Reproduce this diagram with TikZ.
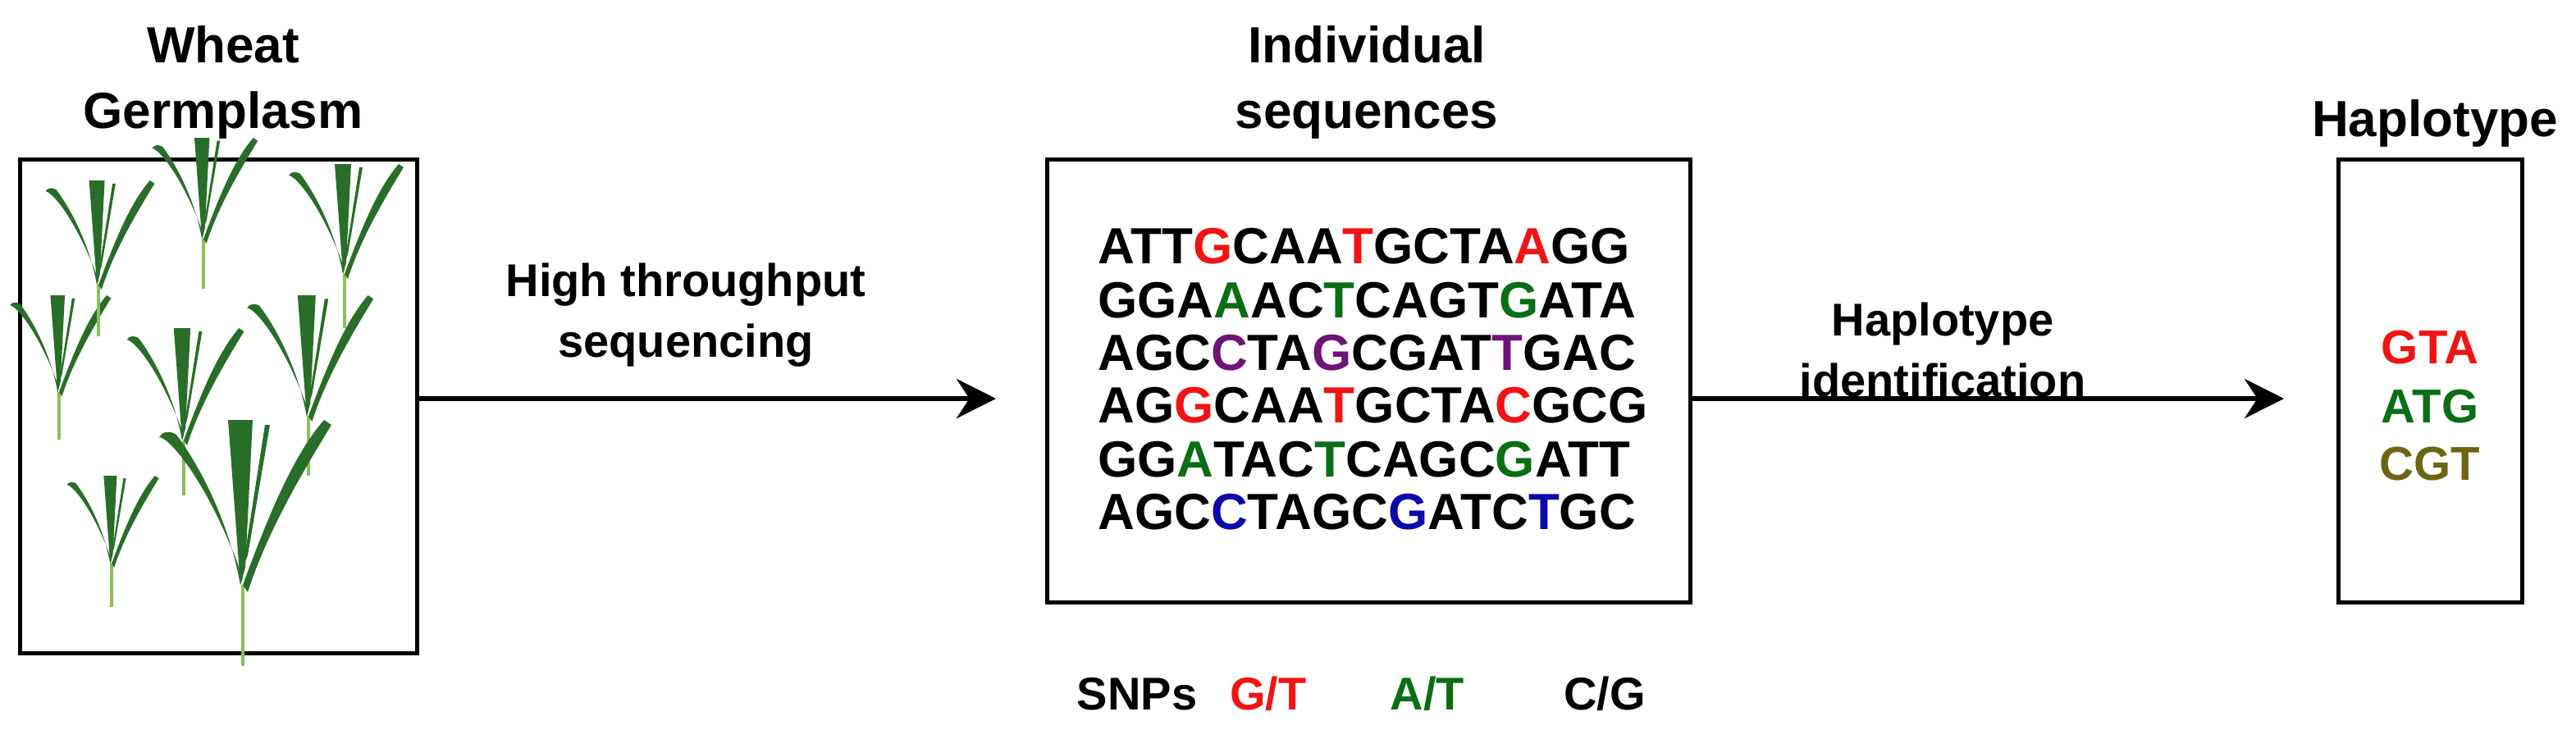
\documentclass[tikz,border=0pt]{standalone}
\usepackage{fontspec}
\setmainfont{Liberation Sans}
\usetikzlibrary{arrows.meta}
\definecolor{snpred}{RGB}{240,20,20}
\definecolor{snpgreen}{RGB}{10,110,20}
\definecolor{snppurple}{RGB}{110,20,120}
\definecolor{snpblue}{RGB}{10,10,170}
\definecolor{snpolive}{RGB}{110,100,20}
\definecolor{leafc}{RGB}{40,110,40}
\definecolor{stemc}{RGB}{140,190,90}
\newcommand{\cR}[1]{\textcolor{snpred}{#1}}
\newcommand{\cG}[1]{\textcolor{snpgreen}{#1}}
\newcommand{\cP}[1]{\textcolor{snppurple}{#1}}
\newcommand{\cB}[1]{\textcolor{snpblue}{#1}}
\begin{document}
\begin{tikzpicture}[x=1pt,y=-1pt,
  box/.style={draw,line width=2.5pt},
  title/.style={font=\fontsize{31}{40}\selectfont\bfseries,align=center},
  lab/.style={font=\fontsize{28}{37}\selectfont\bfseries,align=center},
  seq/.style={font=\fontsize{31}{32}\selectfont\bfseries,anchor=west,inner sep=0},
  snp/.style={font=\fontsize{28}{30}\selectfont\bfseries,inner sep=0},
  hap/.style={font=\fontsize{29}{30}\selectfont\bfseries,inner sep=0},
  arr/.style={line width=3pt,-{Stealth[length=24pt,width=24pt]}},
  plant/.pic={
    \draw[stemc,line width=1.6pt] (0,0) -- (0,-0.33);
    \fill[leafc] (-0.01,-0.33) .. controls (-0.06,-0.6) and (-0.18,-0.82) .. (-0.27,-0.94)
       .. controls (-0.3,-0.96) and (-0.33,-0.95) .. (-0.34,-0.93)
       .. controls (-0.3,-0.93) and (-0.14,-0.75) .. (0.0,-0.36) -- cycle;
    \fill[leafc] (-0.01,-0.33) -- (-0.06,-1.0) -- (0.04,-1.0) -- (0.01,-0.4) -- cycle;
    \fill[leafc] (0.0,-0.33) .. controls (0.1,-0.6) and (0.2,-0.85) .. (0.33,-1.0)
       -- (0.36,-0.98) .. controls (0.25,-0.8) and (0.1,-0.55) .. (0.02,-0.3) -- cycle;
    \fill[leafc] (0.0,-0.4) -- (0.09,-0.98) -- (0.11,-0.98) -- (0.02,-0.45) -- cycle;
  }]
\useasboundingbox (0,0) rectangle (1570,450);
% titles
\node[title] (t1) at (136,50) {Wheat\\Germplasm};
\node[title] (t2) at (833,50) {Individual\\sequences};
\node[title] (t3) at (1484,75) {Haplotype};
% boxes
\node[box,minimum width=242pt,minimum height=301pt,inner sep=0] (b1) at (133,247.5) {};
\node[box,minimum width=392pt,minimum height=270pt,inner sep=0] (b2) at (834,232) {};
\node[box,minimum width=112pt,minimum height=270pt,inner sep=0] (b3) at (1481,232) {};
% plants
\pic[scale=88] at (36,268) {plant};
\pic[scale=95] at (60,205) {plant};
\pic[scale=92] at (124,176) {plant};
\pic[scale=100] at (210,200) {plant};
\pic[scale=102] at (112,302) {plant};
\pic[scale=110] at (188,290) {plant};
\pic[scale=80] at (68,370) {plant};
\pic[scale=150] at (148,406) {plant};
% arrows
\draw[arr] (b1.east |- 0,243) -- (607,243) coordinate (e1);
\draw[arr] (b2.east |- 0,243) -- (1392,243) coordinate (e2);
\node[lab] (l1) at (418,192) {High throughput\\sequencing};
\node[lab] (l2) at (1184,213) {Haplotype\\identification};
% sequences
\node[seq] (s1) at (669,150) {ATT\cR{G}CAA\cR{T}GCTA\cR{A}GG};
\node[seq] (s2) at (669,183) {GGA\cG{A}AC\cG{T}CAGT\cG{G}ATA};
\node[seq] (s3) at (669,215) {AGC\cP{C}TA\cP{G}CGAT\cP{T}GAC};
\node[seq] (s4) at (669,247) {AG\cR{G}CAA\cR{T}GCTA\cR{C}GCG};
\node[seq] (s5) at (669,280) {GG\cG{A}TAC\cG{T}CAGC\cG{G}ATT};
\node[seq] (s6) at (669,312) {AGC\cB{C}TAGC\cB{G}ATC\cB{T}GC};
% SNPs
\node[snp] (n0) at (693,423) {SNPs};
\node[snp,text=snpred] (n1) at (773,423) {G/T};
\node[snp,text=snpgreen] (n2) at (870,423) {A/T};
\node[snp] (n3) at (978,423) {C/G};
% haplotypes
\node[hap,text=snpred] (h1) at (1481,212) {GTA};
\node[hap,text=snpgreen] (h2) at (1481,248) {ATG};
\node[hap,text=snpolive] (h3) at (1481,283) {CGT};
\end{tikzpicture}
\end{document}
